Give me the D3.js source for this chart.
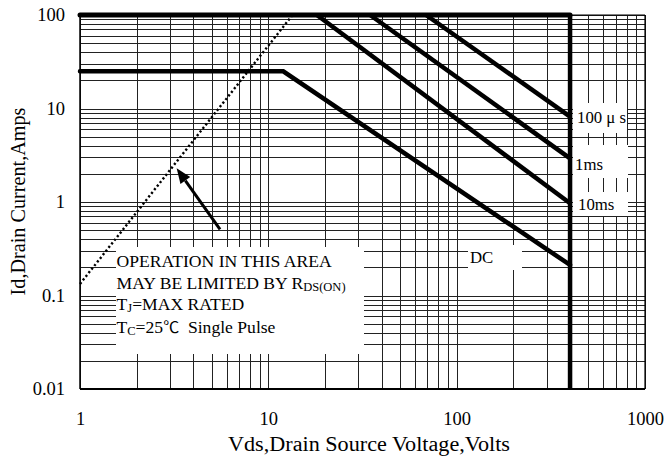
<!DOCTYPE html>
<html><head><meta charset="utf-8">
<script src="https://cdn.jsdelivr.net/npm/d3@7"></script>
<style>
html,body{margin:0;padding:0;background:#fff;}
svg{display:block;}
text{font-family:"Liberation Serif","Times New Roman",serif;fill:#000;}
</style></head>
<body>
<svg id="chart" width="668" height="461"></svg>
<script>
// ---- data ----
const xTicks = [1, 10, 100, 1000];
const yTicks = [0.01, 0.1, 1, 10, 100];
const xTickLabels = ["1", "10", "100", "1000"];
const yTickLabels = ["0.01", "0.1", "1", "10", "100"];
const xTitle = "Vds,Drain Source Voltage,Volts";
const yTitle = "Id,Drain Current,Amps";
// SOA boundaries [Vds, Id]
const currentLimit = [[1, 100], [400, 100]];
const voltageLimit = [[400, 100], [400, 0.01]];
const dcCurve = [[1, 25], [12, 25], [400, 0.212]];
const ms10Curve = [[18.1, 100], [400, 0.97]];
const ms1Curve = [[34.7, 100], [400, 2.93]];
const us100Curve = [[68.8, 100], [400, 8.2]];
const rdsLimit = [[1, 0.133], [13.45, 100]];
const arrowPts = [[5.54, 0.51], [3.26, 2.29]];
const curveLabels = ["100 μ s", "1ms", "10ms", "DC"];

// ---- layout ----
const svg = d3.select("#chart");
const L = 80, R = 645, T = 15, B = 389;
const x = d3.scaleLog().domain([1, 1000]).range([L, R]);
const y = d3.scaleLog().domain([0.01, 100]).range([B, T]);

// grid
const xGrid = [], yGrid = [];
for (let d = 0; d < 3; d++) for (let k = 1; k <= 9; k++) xGrid.push(k * Math.pow(10, d));
xGrid.push(1000);
for (let d = -2; d < 2; d++) for (let k = 1; k <= 9; k++) yGrid.push(k * Math.pow(10, d));
yGrid.push(100);

const g = svg.append("g");
g.selectAll("line.vg").data(xGrid).join("line")
  .attr("x1", d => Math.round(x(d)) + 0.5).attr("x2", d => Math.round(x(d)) + 0.5)
  .attr("y1", T).attr("y2", B)
  .attr("stroke", "#222").attr("stroke-width", 1);
g.selectAll("line.hg").data(yGrid).join("line")
  .attr("y1", d => Math.round(y(d)) + 0.5).attr("y2", d => Math.round(y(d)) + 0.5)
  .attr("x1", L).attr("x2", R)
  .attr("stroke", "#222").attr("stroke-width", 1);

// white label boxes covering the grid
const boxes = [
  [116, 247, 364, 354],
  [468, 245, 522, 270],
  [573, 103, 627, 133],
  [573, 145, 628, 178],
  [573, 192, 628, 216]
];
svg.selectAll("rect.box").data(boxes).join("rect")
  .attr("x", d => d[0]).attr("y", d => d[1])
  .attr("width", d => d[2] - d[0]).attr("height", d => d[3] - d[1])
  .attr("fill", "#fff");

// frame
svg.append("line").attr("x1", L).attr("x2", L).attr("y1", T).attr("y2", B)
  .attr("stroke", "#000").attr("stroke-width", 1.5);
svg.append("line").attr("x1", L).attr("x2", R).attr("y1", B).attr("y2", B)
  .attr("stroke", "#000").attr("stroke-width", 2);
svg.append("line").attr("x1", R).attr("x2", R).attr("y1", T).attr("y2", B)
  .attr("stroke", "#000").attr("stroke-width", 1.2);
svg.append("line").attr("x1", L).attr("x2", R).attr("y1", T).attr("y2", T)
  .attr("stroke", "#000").attr("stroke-width", 1.2);

// curves
const line = d3.line().x(d => x(d[0])).y(d => y(d[1]));
[currentLimit, voltageLimit, dcCurve, ms10Curve, ms1Curve, us100Curve].forEach((c, i) => {
  svg.append("path").attr("d", line(c)).attr("fill", "none")
    .attr("stroke", "#000").attr("stroke-width", i === 0 ? 5 : 4.5)
    .attr("stroke-linecap", i === 0 || i === 2 ? "round" : "butt")
    .attr("stroke-linejoin", "miter");
});
svg.append("path").attr("d", line(rdsLimit)).attr("fill", "none")
  .attr("stroke", "#000").attr("stroke-width", 2.4)
  .attr("stroke-dasharray", "2.2 2.4");

// arrow
const [ax0, ay0] = [x(arrowPts[0][0]), y(arrowPts[0][1])];
const [ax1, ay1] = [x(arrowPts[1][0]), y(arrowPts[1][1])];
const ang = Math.atan2(ay1 - ay0, ax1 - ax0);
const hl = 15, hw = 6;
const bx = ax1 - hl * Math.cos(ang), by = ay1 - hl * Math.sin(ang);
svg.append("line").attr("x1", ax0).attr("y1", ay0).attr("x2", bx).attr("y2", by)
  .attr("stroke", "#000").attr("stroke-width", 3);
svg.append("polygon").attr("points", [
  [ax1, ay1],
  [bx + hw * Math.sin(ang), by - hw * Math.cos(ang)],
  [bx - hw * Math.sin(ang), by + hw * Math.cos(ang)]
].map(p => p.join(",")).join(" ")).attr("fill", "#000");

// axes
const xAxis = svg.append("g").attr("transform", `translate(0,${B})`)
  .call(d3.axisBottom(x).tickValues(xTicks).tickSize(0).tickPadding(23)
    .tickFormat((d, i) => xTickLabels[i]));
const yAxis = svg.append("g").attr("transform", `translate(${L},0)`)
  .call(d3.axisLeft(y).tickValues(yTicks).tickSize(0).tickPadding(15)
    .tickFormat((d, i) => yTickLabels[i]));
[xAxis, yAxis].forEach(a => {
  a.select(".domain").remove();
  a.selectAll("text").attr("font-family", "Liberation Serif").attr("font-size", 18.5).attr("fill", "#000");
});

// titles
svg.append("text").attr("x", 369).attr("y", 450.5).attr("text-anchor", "middle")
  .attr("font-size", 20.5).attr("textLength", 282).attr("lengthAdjust", "spacingAndGlyphs")
  .text(xTitle);
svg.append("text").attr("transform", "translate(25,201.5) rotate(-90)")
  .attr("text-anchor", "middle").attr("font-size", 20.2).text(yTitle);

// curve labels
const lab = svg.append("g").attr("font-size", 16.8);
lab.append("text").attr("x", 577).attr("y", 123).text(curveLabels[0]);
lab.append("text").attr("x", 575).attr("y", 170).text(curveLabels[1]);
lab.append("text").attr("x", 578).attr("y", 210).text(curveLabels[2]);
lab.append("text").attr("x", 470).attr("y", 263).text(curveLabels[3]);

// annotation
const ann = svg.append("g").attr("font-size", 17.6);
ann.append("text").attr("x", 116.5).attr("y", 266.7).text("OPERATION IN THIS AREA");
const t2 = ann.append("text").attr("x", 116.5).attr("y", 288.5);
t2.append("tspan").text("MAY BE LIMITED BY R");
t2.append("tspan").attr("font-size", 12.5).attr("dy", 2).text("DS(ON)");
const t3 = ann.append("text").attr("x", 116.5).attr("y", 309.5);
t3.append("tspan").text("T");
t3.append("tspan").attr("font-size", 12.5).attr("dy", 2).text("J");
t3.append("tspan").attr("dy", -2).text("=MAX RATED");
const t4 = ann.append("text").attr("x", 116.5).attr("y", 333);
t4.append("tspan").text("T");
t4.append("tspan").attr("font-size", 12.5).attr("dy", 2).text("C");
t4.append("tspan").attr("dy", -2).text("=25");
t4.append("tspan").attr("font-family", "Noto Sans CJK SC").attr("font-size", 16).text("℃");
t4.append("tspan").text("  Single Pulse").attr("xml:space", "preserve").style("white-space", "pre");
</script>
</body></html>
